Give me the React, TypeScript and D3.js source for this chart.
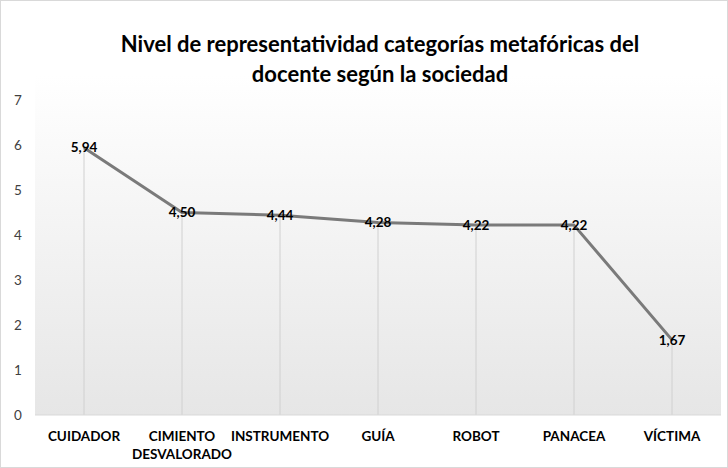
import React from "react";
import * as d3 from "d3";

const categories = ["CUIDADOR", "CIMIENTO DESVALORADO", "INSTRUMENTO", "GUÍA", "ROBOT", "PANACEA", "VÍCTIMA"];
const categoryLines = [["CUIDADOR"], ["CIMIENTO", "DESVALORADO"], ["INSTRUMENTO"], ["GUÍA"], ["ROBOT"], ["PANACEA"], ["VÍCTIMA"]];
const values = [5.94, 4.5, 4.44, 4.28, 4.22, 4.22, 1.67];
const yTicks = [0, 1, 2, 3, 4, 5, 6, 7];
const titleLines = ["Nivel de representatividad categorías metafóricas del", "docente según la sociedad"];

const W = 728;
const H = 468;
const margin = { top: 100, right: 7, bottom: 53, left: 35 };
const font = "Lato, 'Open Sans', sans-serif";

export default function App() {
  const x = d3.scaleBand<number>()
    .domain(d3.range(categories.length))
    .range([margin.left, W - margin.right]);

  const y = d3.scaleLinear()
    .domain([0, 7])
    .range([H - margin.bottom, margin.top]);

  const cx = (i: number) => (x(i) ?? 0) + x.bandwidth() / 2;

  const line = d3.line<number>()
    .x((d, i) => cx(i))
    .y(d => y(d));

  const fmt = (v: number) => v.toFixed(2).replace(".", ",");

  return (
    <svg width={W} height={H} style={{ position: "absolute", left: 0, top: 0, background: "#fff" }}>
      <defs>
        <linearGradient id="bg" x1="0" y1="0" x2="0" y2="1">
          <stop offset="0%" stopColor="#ffffff" />
          <stop offset="100%" stopColor="#e6e6e6" />
        </linearGradient>
      </defs>
      <rect x={0.5} y={0.5} width={W - 1} height={H - 1} fill="#fff" stroke="#d9d9d9" />
      <rect x={margin.left} y={margin.top - 25} width={W - margin.left - margin.right} height={H - margin.bottom - margin.top + 25} fill="url(#bg)" />

      {titleLines.map((t, i) => (
        <text key={t} x={380} y={52 + i * 30} textAnchor="middle" fontFamily={font} fontWeight="bold" fontSize={22} fill="#000">{t}</text>
      ))}

      {categories.map((c, i) => (
        <line key={c} x1={cx(i)} x2={cx(i)} y1={y(values[i])} y2={y(0)} stroke="#d0d0d0" strokeWidth={1} />
      ))}

      <line x1={margin.left} x2={W - margin.right} y1={y(0)} y2={y(0)} stroke="#d9d9d9" strokeWidth={1} />

      {yTicks.map(t => (
        <text key={t} x={14} y={y(t)} dy="0.35em" fontFamily={font} fontSize={13.5} fill="#404040">{t}</text>
      ))}

      <path d={line(values) ?? ""} fill="none" stroke="#7a7a7a" strokeWidth={3} strokeLinejoin="round" />

      {values.map((v, i) => (
        <text key={i} x={cx(i)} y={y(v)} dy="0.35em" textAnchor="middle" fontFamily={font} fontWeight="bold" fontSize={13.5} fill="#000">{fmt(v)}</text>
      ))}

      {categoryLines.map((ls, i) => ls.map((l, j) => (
        <text key={`${i}-${j}`} x={cx(i)} y={441 + j * 18} textAnchor="middle" fontFamily={font} fontWeight="bold" fontSize={13.5} fill="#000">{l}</text>
      )))}
    </svg>
  );
}
